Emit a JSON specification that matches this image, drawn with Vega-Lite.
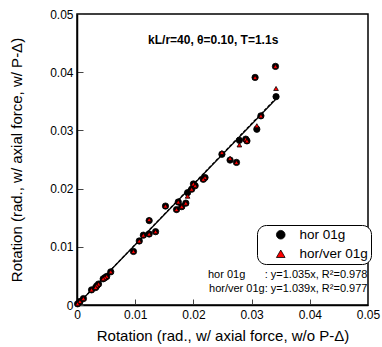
{
  "$schema": "https://vega.github.io/schema/vega-lite/v6.json",
  "width": 291,
  "height": 291,
  "autosize": "none",
  "padding": {"left": 77, "top": 14, "right": 14, "bottom": 42},
  "background": "white",
  "config": {
    "font": "Liberation Sans",
    "view": {"stroke": "black", "strokeWidth": 1.5},
    "axis": {"grid": false, "domainColor": "black", "domainWidth": 1.5, "tickColor": "#444", "tickSize": -6, "tickWidth": 1, "labelFont": "Liberation Sans", "labelFontSize": 12, "labelColor": "black", "labelFlush": false, "format": "~g", "titleFont": "Liberation Sans", "titleFontSize": 15, "titleFontWeight": "normal", "titleColor": "black"}
  },
  "datasets": {
    "pts": [
      {"series": "hor 01g", "x": 0.0341, "y": 0.0410},
      {"series": "hor 01g", "x": 0.0306, "y": 0.0391},
      {"series": "hor 01g", "x": 0.0342, "y": 0.0358},
      {"series": "hor 01g", "x": 0.0316, "y": 0.0325},
      {"series": "hor 01g", "x": 0.0309, "y": 0.0302},
      {"series": "hor 01g", "x": 0.0290, "y": 0.0285},
      {"series": "hor 01g", "x": 0.0279, "y": 0.0283},
      {"series": "hor 01g", "x": 0.0292, "y": 0.0282},
      {"series": "hor 01g", "x": 0.0249, "y": 0.0259},
      {"series": "hor 01g", "x": 0.0263, "y": 0.0249},
      {"series": "hor 01g", "x": 0.0274, "y": 0.0245},
      {"series": "hor 01g", "x": 0.0220, "y": 0.0219},
      {"series": "hor 01g", "x": 0.0217, "y": 0.0216},
      {"series": "hor 01g", "x": 0.0200, "y": 0.0208},
      {"series": "hor 01g", "x": 0.0203, "y": 0.0205},
      {"series": "hor 01g", "x": 0.0197, "y": 0.0199},
      {"series": "hor 01g", "x": 0.0190, "y": 0.0193},
      {"series": "hor 01g", "x": 0.0174, "y": 0.0177},
      {"series": "hor 01g", "x": 0.0152, "y": 0.0170},
      {"series": "hor 01g", "x": 0.0171, "y": 0.0164},
      {"series": "hor 01g", "x": 0.0180, "y": 0.0169},
      {"series": "hor 01g", "x": 0.0187, "y": 0.0175},
      {"series": "hor 01g", "x": 0.0124, "y": 0.0145},
      {"series": "hor 01g", "x": 0.0135, "y": 0.0126},
      {"series": "hor 01g", "x": 0.0124, "y": 0.0122},
      {"series": "hor 01g", "x": 0.0114, "y": 0.0120},
      {"series": "hor 01g", "x": 0.0107, "y": 0.0110},
      {"series": "hor 01g", "x": 0.0097, "y": 0.0092},
      {"series": "hor 01g", "x": 0.0058, "y": 0.0057},
      {"series": "hor 01g", "x": 0.0051, "y": 0.0049},
      {"series": "hor 01g", "x": 0.0048, "y": 0.0047},
      {"series": "hor 01g", "x": 0.0045, "y": 0.0045},
      {"series": "hor 01g", "x": 0.0037, "y": 0.0036},
      {"series": "hor 01g", "x": 0.0034, "y": 0.0033},
      {"series": "hor 01g", "x": 0.0032, "y": 0.0030},
      {"series": "hor 01g", "x": 0.0025, "y": 0.0026},
      {"series": "hor 01g", "x": 0.0011, "y": 0.0011},
      {"series": "hor 01g", "x": 0.0005, "y": 0.0006},
      {"series": "hor 01g", "x": 0.0001, "y": 0.0002},
      {"series": "hor/ver 01g", "x": 0.0341, "y": 0.0410},
      {"series": "hor/ver 01g", "x": 0.0306, "y": 0.0391},
      {"series": "hor/ver 01g", "x": 0.0342, "y": 0.0372},
      {"series": "hor/ver 01g", "x": 0.0316, "y": 0.0325},
      {"series": "hor/ver 01g", "x": 0.0309, "y": 0.0308},
      {"series": "hor/ver 01g", "x": 0.0290, "y": 0.0285},
      {"series": "hor/ver 01g", "x": 0.0279, "y": 0.0275},
      {"series": "hor/ver 01g", "x": 0.0292, "y": 0.0282},
      {"series": "hor/ver 01g", "x": 0.0249, "y": 0.0262},
      {"series": "hor/ver 01g", "x": 0.0263, "y": 0.0252},
      {"series": "hor/ver 01g", "x": 0.0274, "y": 0.0245},
      {"series": "hor/ver 01g", "x": 0.0220, "y": 0.0219},
      {"series": "hor/ver 01g", "x": 0.0217, "y": 0.0216},
      {"series": "hor/ver 01g", "x": 0.0200, "y": 0.0208},
      {"series": "hor/ver 01g", "x": 0.0203, "y": 0.0205},
      {"series": "hor/ver 01g", "x": 0.0197, "y": 0.0199},
      {"series": "hor/ver 01g", "x": 0.0190, "y": 0.0187},
      {"series": "hor/ver 01g", "x": 0.0174, "y": 0.0177},
      {"series": "hor/ver 01g", "x": 0.0152, "y": 0.0170},
      {"series": "hor/ver 01g", "x": 0.0171, "y": 0.0164},
      {"series": "hor/ver 01g", "x": 0.0180, "y": 0.0169},
      {"series": "hor/ver 01g", "x": 0.0187, "y": 0.0175},
      {"series": "hor/ver 01g", "x": 0.0124, "y": 0.0147},
      {"series": "hor/ver 01g", "x": 0.0135, "y": 0.0126},
      {"series": "hor/ver 01g", "x": 0.0124, "y": 0.0122},
      {"series": "hor/ver 01g", "x": 0.0114, "y": 0.0120},
      {"series": "hor/ver 01g", "x": 0.0107, "y": 0.0110},
      {"series": "hor/ver 01g", "x": 0.0097, "y": 0.0092},
      {"series": "hor/ver 01g", "x": 0.0058, "y": 0.0057},
      {"series": "hor/ver 01g", "x": 0.0051, "y": 0.0049},
      {"series": "hor/ver 01g", "x": 0.0048, "y": 0.0047},
      {"series": "hor/ver 01g", "x": 0.0045, "y": 0.0045},
      {"series": "hor/ver 01g", "x": 0.0037, "y": 0.0036},
      {"series": "hor/ver 01g", "x": 0.0034, "y": 0.0033},
      {"series": "hor/ver 01g", "x": 0.0032, "y": 0.0030},
      {"series": "hor/ver 01g", "x": 0.0025, "y": 0.0026},
      {"series": "hor/ver 01g", "x": 0.0011, "y": 0.0011},
      {"series": "hor/ver 01g", "x": 0.0005, "y": 0.0006},
      {"series": "hor/ver 01g", "x": 0.0001, "y": 0.0002}
    ],
    "fit": [
      {"series": "hor 01g", "x": 0, "y": 0},
      {"series": "hor 01g", "x": 0.0342, "y": 0.0354},
      {"series": "hor/ver 01g", "x": 0, "y": 0},
      {"series": "hor/ver 01g", "x": 0.0342, "y": 0.03553}
    ],
    "labels": [
      {"x": 0.0234, "y": 0.0455, "t": "kL/r=40, θ=0.10, T=1.1s", "kind": "title"},
      {"x": 0.0225, "y": 0.0051, "t": "hor 01g", "kind": "left"},
      {"x": 0.0499, "y": 0.0051, "t": ": y=1.035x, R²=0.978", "kind": "right"},
      {"x": 0.0499, "y": 0.0027, "t": "hor/ver 01g: y=1.039x, R²=0.977", "kind": "right"}
    ]
  },
  "layer": [
    {
      "data": {"name": "fit"},
      "transform": [{"filter": "datum.series == 'hor 01g'"}],
      "mark": {"type": "line", "color": "black", "strokeWidth": 1.2},
      "encoding": {
        "x": {"field": "x", "type": "quantitative", "scale": {"domain": [0, 0.05], "nice": false}, "axis": {"values": [0, 0.01, 0.02, 0.03, 0.04, 0.05], "labelPadding": 10, "title": "Rotation (rad., w/ axial force, w/o P-Δ)", "titlePadding": 8}},
        "y": {"field": "y", "type": "quantitative", "scale": {"domain": [0, 0.05], "nice": false}, "axis": {"values": [0, 0.01, 0.02, 0.03, 0.04, 0.05], "labelPadding": 10, "title": "Rotation (rad., w/ axial force, w/ P-Δ)", "titlePadding": 25}}
      }
    },
    {
      "data": {"name": "fit"},
      "transform": [{"filter": "datum.series == 'hor/ver 01g'"}],
      "mark": {"type": "line", "color": "black", "strokeWidth": 1.2, "strokeDash": [3, 2]},
      "encoding": {
        "x": {"field": "x", "type": "quantitative"},
        "y": {"field": "y", "type": "quantitative"}
      }
    },
    {
      "data": {"name": "pts"},
      "transform": [{"filter": "datum.series == 'hor 01g'"}],
      "mark": {"type": "point", "filled": true, "stroke": "black", "strokeWidth": 0.8, "opacity": 1, "size": 40},
      "encoding": {
        "x": {"field": "x", "type": "quantitative"},
        "y": {"field": "y", "type": "quantitative"},
        "shape": {"field": "series", "type": "nominal", "scale": {"domain": ["hor 01g", "hor/ver 01g"], "range": ["circle", "triangle-up"]}, "legend": {"title": null, "orient": "none", "legendX": 180, "legendY": 211, "strokeColor": "black", "cornerRadius": 9, "padding": 3, "labelFontSize": 13.5, "labelFont": "Liberation Sans", "labelColor": "black", "symbolSize": 75, "symbolOffset": 14, "symbolStrokeColor": "black", "symbolStrokeWidth": 0.8, "symbolOpacity": 1, "rowPadding": 4, "labelOffset": 12, "fillColor": "white"}},
        "color": {"field": "series", "type": "nominal", "scale": {"domain": ["hor 01g", "hor/ver 01g"], "range": ["black", "#ff0000"]}, "legend": {"title": null, "orient": "none", "legendX": 180, "legendY": 211, "strokeColor": "black", "cornerRadius": 9, "padding": 3, "labelFontSize": 13.5, "labelFont": "Liberation Sans", "labelColor": "black", "symbolSize": 75, "symbolOffset": 14, "symbolStrokeColor": "black", "symbolStrokeWidth": 0.8, "symbolOpacity": 1, "rowPadding": 4, "labelOffset": 12, "fillColor": "white"}}
      }
    },
    {
      "data": {"name": "pts"},
      "transform": [{"filter": "datum.series == 'hor/ver 01g'"}],
      "mark": {"type": "point", "filled": true, "stroke": "black", "strokeWidth": 0.8, "opacity": 1, "size": 22},
      "encoding": {
        "x": {"field": "x", "type": "quantitative"},
        "y": {"field": "y", "type": "quantitative"},
        "shape": {"field": "series", "type": "nominal"},
        "color": {"field": "series", "type": "nominal"}
      }
    },
    {
      "data": {"name": "labels"},
      "transform": [{"filter": "datum.kind == 'title'"}],
      "mark": {"type": "text", "fontWeight": "bold", "fontSize": 12, "align": "center", "baseline": "middle", "color": "black"},
      "encoding": {"x": {"field": "x", "type": "quantitative"}, "y": {"field": "y", "type": "quantitative"}, "text": {"field": "t"}}
    },
    {
      "data": {"name": "labels"},
      "transform": [{"filter": "datum.kind == 'left'"}],
      "mark": {"type": "text", "fontSize": 11, "align": "left", "baseline": "middle", "color": "black"},
      "encoding": {"x": {"field": "x", "type": "quantitative"}, "y": {"field": "y", "type": "quantitative"}, "text": {"field": "t"}}
    },
    {
      "data": {"name": "labels"},
      "transform": [{"filter": "datum.kind == 'right'"}],
      "mark": {"type": "text", "fontSize": 11, "align": "right", "baseline": "middle", "color": "black"},
      "encoding": {"x": {"field": "x", "type": "quantitative"}, "y": {"field": "y", "type": "quantitative"}, "text": {"field": "t"}}
    }
  ]
}
